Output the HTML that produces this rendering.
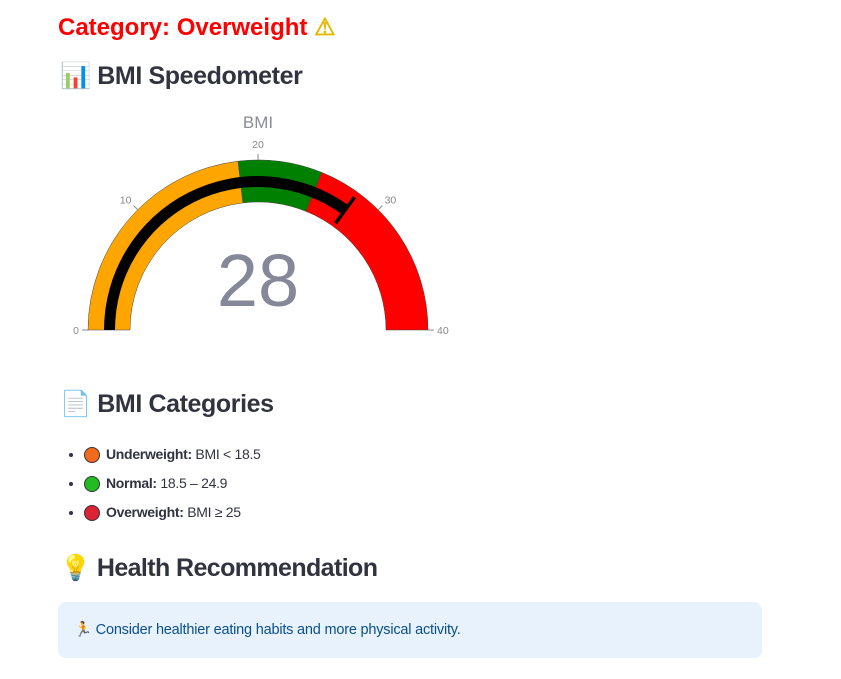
<!DOCTYPE html>
<html><head><meta charset="utf-8"><style>
body{margin:0;background:#fff;font-family:"Liberation Sans",sans-serif;color:#31333f;}
.wrap{position:relative;width:841px;height:679px;overflow:hidden;}
h2{position:absolute;margin:0;font-weight:bold;}
ul{position:absolute;left:58px;top:440px;margin:0;padding-left:26px;font-size:14px;letter-spacing:-0.3px;}
li{height:29px;line-height:29px;}
.dot{display:inline-block;width:14px;height:14px;border-radius:50%;border:1.5px solid #333;vertical-align:-4px;margin-right:6px;}
</style></head><body><div class="wrap">
<h2 style="left:58px;top:13px;font-size:24px;color:#ff0000;">Category: Overweight <span style="color:#e6b800">⚠</span></h2>
<h2 style="left:60px;top:62px;font-size:25px;letter-spacing:-0.4px;">📊 BMI Speedometer</h2>
<svg style="position:absolute;left:0;top:100px" width="520" height="250" id="g"></svg>
<h2 style="left:60px;top:390px;font-size:25px;letter-spacing:-0.4px;">📄 BMI Categories</h2>
<ul>
<li><span class="dot" style="background:#f26b1d"></span><b>Underweight:</b> BMI &lt; 18.5</li>
<li><span class="dot" style="background:#22bb22"></span><b>Normal:</b> 18.5 – 24.9</li>
<li><span class="dot" style="background:#dd2233"></span><b>Overweight:</b> BMI ≥ 25</li>
</ul>
<h2 style="left:60px;top:554px;font-size:25px;letter-spacing:-0.6px;">💡 Health Recommendation</h2>
<div style="position:absolute;left:58px;top:602px;width:704px;height:56px;background:#e8f2fc;border-radius:8px;color:#0a4f8a;font-size:14.5px;letter-spacing:-0.2px;line-height:56px;box-sizing:border-box;padding-left:16px;">🏃 Consider healthier eating habits and more physical activity.</div>
</div>
<script>
const rangeMax=40;
const value=28;
const threshold=28;
const stepStarts=[0,18.5,24.9];
const stepEnds=[18.5,24.9,40];
const stepColors=['#ffa500','#008000','#ff0000'];
const ticks=[0,10,20,30,40];
const NS='http://www.w3.org/2000/svg';
const svg=document.getElementById('g');
const cx=258,cy=230;
function ang(v){return Math.PI*(1-v/rangeMax);}
function pt(v,r){const a=ang(v);return [cx+r*Math.cos(a),cy-r*Math.sin(a)];}
function arc(v0,v1,r0,r1){const a=pt(v0,r1),b=pt(v1,r1),c=pt(v1,r0),d=pt(v0,r0);
return `M${a}A${r1},${r1} 0 0 1 ${b}L${c}A${r0},${r0} 0 0 0 ${d}Z`;}
function mk(t,attrs){const e=document.createElementNS(NS,t);for(const k in attrs)e.setAttribute(k,attrs[k]);svg.appendChild(e);return e;}
stepStarts.forEach((s,i)=>{const p=mk('path',{d:arc(s,stepEnds[i],128,170),fill:stepColors[i],stroke:'#444','stroke-width':0.5});

});
const bar=mk('path',{d:arc(0,value,143,154),fill:'#000'});


const [tx1,ty1]=pt(threshold,132),[tx2,ty2]=pt(threshold,164);
const th=mk('line',{x1:tx1,y1:ty1,x2:tx2,y2:ty2,stroke:'#000','stroke-width':3.5});


ticks.forEach(t=>{const [a,b]=pt(t,170),[c,d]=pt(t,176),[lx,ly]=pt(t,179);
const l=mk('line',{x1:a,y1:b,x2:c,y2:d,stroke:'#888','stroke-width':1});


const tx=mk('text',{x:lx,y:ly+(t==20?-3:t==0||t==40?4:0),'font-size':10.5,fill:'#888','text-anchor':t==0?'end':t==40?'start':t<20?'end':t>20?'start':'middle','font-family':'Liberation Sans'});
tx.textContent=t;

});
const title=mk('text',{x:cx,y:28,'font-size':17,fill:'#8a8c99','text-anchor':'middle','font-family':'Liberation Sans'});title.textContent='BMI';


const num=mk('text',{x:cx,y:206,'font-size':74,fill:'#858899','text-anchor':'middle','font-family':'Liberation Sans'});num.textContent=value;


</script></body></html>
